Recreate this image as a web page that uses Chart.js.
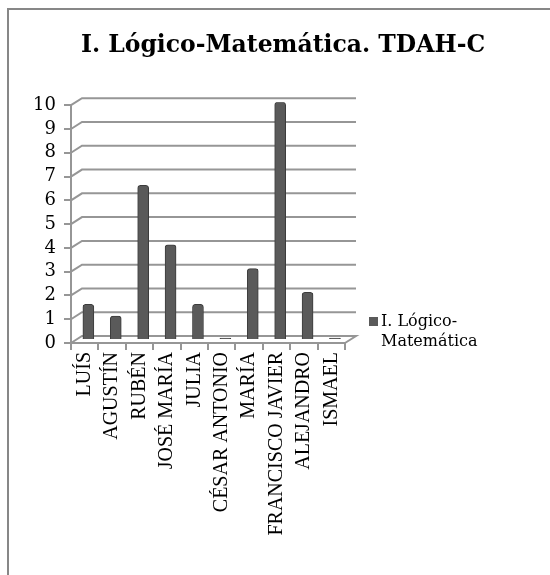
<!DOCTYPE html>
<html>
<head>
<meta charset="utf-8">
<script src="https://cdn.jsdelivr.net/npm/chart.js@4/dist/chart.umd.min.js"></script>
<style>
  html, body { margin: 0; padding: 0; background: #fff; }
  #wrap { width: 550px; height: 575px; position: relative; }
</style>
</head>
<body>
<div id="wrap"><canvas id="c" width="550" height="575"></canvas></div>
<script>
const categories = ["LUÍS", "AGUSTÍN", "RUBÉN", "JOSÉ MARÍA", "JULIA", "CÉSAR ANTONIO", "MARÍA", "FRANCISCO JAVIER", "ALEJANDRO", "ISMAEL"];
const seriesName = "I. Lógico-Matemática";
const legendLines = ["I. Lógico-", "Matemática"];
const values = [1.5, 1, 6.5, 4, 1.5, 0, 3, 10, 2, 0];
const yTicks = [0, 1, 2, 3, 4, 5, 6, 7, 8, 9, 10];
const titleText = "I. Lógico-Matemática. TDAH-C";

const DX = 11, DY = 7;           // 3D depth of the back wall
const GRID = "#969696";
const BAR = "#5a5a5a";

const frame = {
  id: "frame",
  beforeDraw(chart) {
    const ctx = chart.ctx;
    ctx.save();
    ctx.fillStyle = "#fff";
    ctx.fillRect(0, 0, chart.width, chart.height);
    ctx.fillStyle = "#878787";
    ctx.fillRect(7, 8, chart.width - 7, 2);
    ctx.fillRect(7, 8, 2, chart.height - 8);
    ctx.restore();
  }
};

const walls = {
  id: "walls",
  beforeDatasetsDraw(chart) {
    const ctx = chart.ctx;
    const ys = chart.scales.y;
    const { left, right } = chart.chartArea;
    ctx.save();
    ctx.strokeStyle = GRID;
    ctx.lineWidth = 2;
    yTicks.forEach(v => {
      const y = ys.getPixelForValue(v);
      ctx.beginPath();
      ctx.moveTo(left, y);
      ctx.lineTo(left + DX, y - DY);
      ctx.lineTo(right + DX, y - DY);
      if (v === 0) {
        ctx.lineTo(right, y);
      }
      ctx.stroke();
    });
    ctx.restore();
    ctx.save();
    ctx.translate(DX / 3, -DY / 2.3);
  },
  afterDatasetsDraw(chart) {
    chart.ctx.restore();
  }
};

const sideLegend = {
  id: "sideLegend",
  afterDraw(chart) {
    const ctx = chart.ctx;
    const x = chart.chartArea.right + 24;
    const y = 322;
    ctx.save();
    ctx.fillStyle = BAR;
    ctx.fillRect(x, y - 5, 9, 9);
    ctx.fillStyle = "#000";
    ctx.font = "16px 'DejaVu Serif'";
    ctx.textBaseline = "middle";
    legendLines.forEach((t, i) => ctx.fillText(t, x + 12, y + i * 20));
    ctx.restore();
  }
};

new Chart(document.getElementById("c"), {
  type: "bar",
  data: {
    labels: categories,
    datasets: [{
      label: seriesName,
      data: values,
      backgroundColor: BAR,
      borderColor: "#3c3c3c",
      borderWidth: 1,
      borderSkipped: "bottom",
      borderRadius: { topLeft: 3, topRight: 3 },
      barThickness: 11,
      minBarLength: 2
    }]
  },
  options: {
    responsive: false,
    animation: false,
    devicePixelRatio: 1,
    layout: { padding: { left: 16, right: 0, top: 0, bottom: 0 } },
    plugins: {
      legend: { display: false },
      tooltip: { enabled: false },
      title: {
        display: true,
        text: titleText,
        color: "#000",
        font: { family: "'DejaVu Serif'", size: 23.5, weight: "bold" },
        padding: { top: 32, bottom: 45 }
      }
    },
    scales: {
      x: {
        grid: { display: true, drawOnChartArea: false, drawTicks: true, tickLength: 7, color: GRID, lineWidth: 2, offset: true },
        border: { display: true, color: GRID, width: 2 },
        ticks: {
          color: "#000",
          font: { family: "'Liberation Serif'", size: 20 },
          minRotation: 90, maxRotation: 90, padding: 2, autoSkip: false
        },
        afterFit(s) { s.height = 232; }
      },
      y: {
        min: 0, max: 10,
        grid: { display: true, drawOnChartArea: false, drawTicks: true, tickLength: 7, color: GRID, lineWidth: 2 },
        border: { display: true, color: GRID, width: 2 },
        ticks: {
          stepSize: 1,
          autoSkip: false,
          color: "#000",
          font: { family: "'DejaVu Serif'", size: 18 },
          padding: 8
        },
        afterFit(s) { s.width = 55; }
      },
      yPad: {
        type: "linear",
        position: "right",
        display: true,
        grid: { display: false },
        border: { display: false },
        ticks: { display: false },
        afterFit(s) { s.width = 205; }
      }
    }
  },
  plugins: [frame, walls, sideLegend]
});
</script>
</body>
</html>
